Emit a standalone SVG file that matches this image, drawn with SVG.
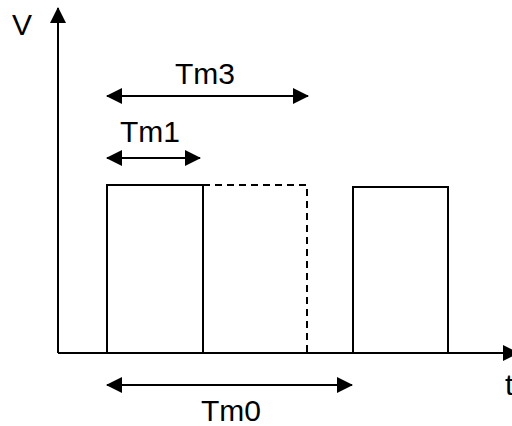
<svg xmlns="http://www.w3.org/2000/svg" width="512" height="426" viewBox="0 0 512 426">
<defs>
<style>
.ln{stroke:#000;stroke-width:2;fill:none}
.dash{stroke:#000;stroke-width:2;fill:none;stroke-dasharray:7,5}
.lbl{font-family:"Liberation Sans",Arial,sans-serif;font-size:30px;fill:#000}
</style>
<marker id="ah" markerWidth="16" markerHeight="16" viewBox="0 0 16 16" refX="15" refY="8" orient="auto-start-reverse" markerUnits="userSpaceOnUse">
<path d="M0,0 L16,8 L0,16 Z" fill="#000"/>
</marker>
</defs>
<rect width="512" height="426" fill="#fff"/>
<g id="pulses">
<g id="pulse1"><rect class="ln" x="107" y="185" width="96" height="168"/></g>
<g id="pulse2"><path class="dash" d="M203,185 H307 V353 H203"/></g>
<g id="pulse3"><rect class="ln" x="353" y="187" width="95" height="166"/></g>
</g>
<g id="connectors">
<line class="ln" x1="58" y1="353" x2="58" y2="8" marker-end="url(#ah)"/>
<line class="ln" x1="58" y1="353" x2="518" y2="353" marker-end="url(#ah)"/>
<line class="ln" x1="107" y1="96" x2="308" y2="96" marker-start="url(#ah)" marker-end="url(#ah)"/>
<line class="ln" x1="107" y1="158" x2="200" y2="158" marker-start="url(#ah)" marker-end="url(#ah)"/>
<line class="ln" x1="107" y1="385" x2="352" y2="385" marker-start="url(#ah)" marker-end="url(#ah)"/>
</g>
<g id="labels">
<text class="lbl" x="12" y="35">V</text>
<text class="lbl" x="505" y="395">t</text>
<text class="lbl" x="205" y="84" text-anchor="middle">Tm3</text>
<text class="lbl" x="150" y="142" text-anchor="middle">Tm1</text>
<text class="lbl" x="231" y="421" text-anchor="middle">Tm0</text>
</g>
</svg>
